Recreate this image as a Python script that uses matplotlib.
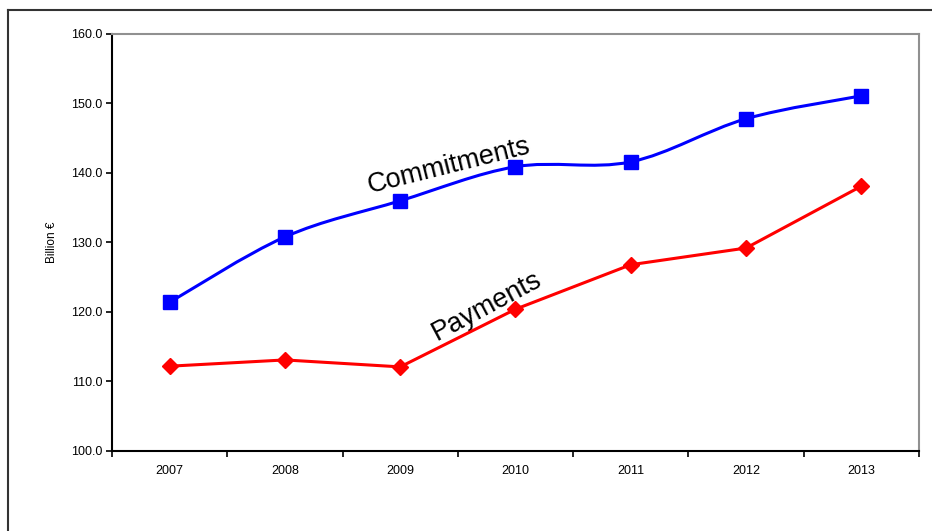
import numpy as np
import matplotlib
matplotlib.use("Agg")
from matplotlib import pyplot as plt
from matplotlib.path import Path
from matplotlib.patches import PathPatch
from matplotlib.lines import Line2D

plt.rcParams['font.family'] = ['Liberation Sans', 'DejaVu Sans']

years = ["2007", "2008", "2009", "2010", "2011", "2012", "2013"]
commitments = [121.4, 130.8, 136.0, 140.9, 141.6, 147.8, 151.1]
payments = [112.2, 113.1, 112.1, 120.4, 126.8, 129.2, 138.1]


def smooth_path(xs, ys):
    # excel style smoothed line: cubic bezier through every point
    pts = np.column_stack([xs, ys]).astype(float)
    ext = np.vstack([pts[0], pts, pts[-1]])
    verts = [pts[0]]
    codes = [Path.MOVETO]
    for i in range(len(pts) - 1):
        p0, p1, p2, p3 = ext[i], ext[i + 1], ext[i + 2], ext[i + 3]
        verts += [p1 + (p2 - p0) / 6, p2 - (p3 - p1) / 6, p2]
        codes += [Path.CURVE4] * 3
    return Path(verts, codes)


fig = plt.figure(figsize=(9.32, 5.31), dpi=100)
ax = fig.add_axes([0.1202, 0.1507, 0.8658, 0.7853])

x = np.arange(len(years))

# commitments: smoothed line + square markers
ax.add_patch(PathPatch(smooth_path(x, commitments), facecolor="none",
                       edgecolor="#0000ff", lw=2.2, zorder=3))
ax.plot(x, commitments, ls="none", marker="s", ms=9.5, color="#0000ff", zorder=4)

# payments: straight line + diamonds
ax.plot(x, payments, color="#ff0000", lw=2.2, marker="D", ms=8, zorder=4)

ax.text(2.42, 141.0, "Commitments", fontsize=19.5, rotation=14,
        ha="center", va="center")
ax.text(2.75, 120.8, "Payments", fontsize=19.5, rotation=28,
        ha="center", va="center")

ax.set_xlim(-0.5, len(years) - 0.5)
ax.set_ylim(100, 160)
ax.set_yticks(np.arange(100, 161, 10))
ax.set_yticklabels([f"{v:.1f}" for v in np.arange(100, 161, 10)], fontsize=9)
ax.set_xticks(x)
ax.set_xticklabels(years, fontsize=9)
ax.set_xticks(np.arange(-0.5, len(years), 1), minor=True)
ax.tick_params(axis="x", which="major", length=0, pad=10)
ax.tick_params(axis="x", which="minor", length=4, width=1.2, direction="out")
ax.tick_params(axis="y", length=4, width=1.2, direction="out", pad=3)
ax.set_ylabel("Billion €", fontsize=8.5, labelpad=9)

for s in ["left", "bottom"]:
    ax.spines[s].set_color("black")
    ax.spines[s].set_linewidth(1.5)
for s in ["top", "right"]:
    ax.spines[s].set_color("#909090")
    ax.spines[s].set_linewidth(1.5)

# outer frame (left and top edges only visible)
fig.add_artist(Line2D([8 / 932, 8 / 932], [0, 1 - 10 / 531],
                      transform=fig.transFigure, color="#333333", lw=1.5))
fig.add_artist(Line2D([8 / 932, 1], [1 - 10 / 531, 1 - 10 / 531],
                      transform=fig.transFigure, color="#333333", lw=1.5))

fig.savefig("out.png", dpi=100)
